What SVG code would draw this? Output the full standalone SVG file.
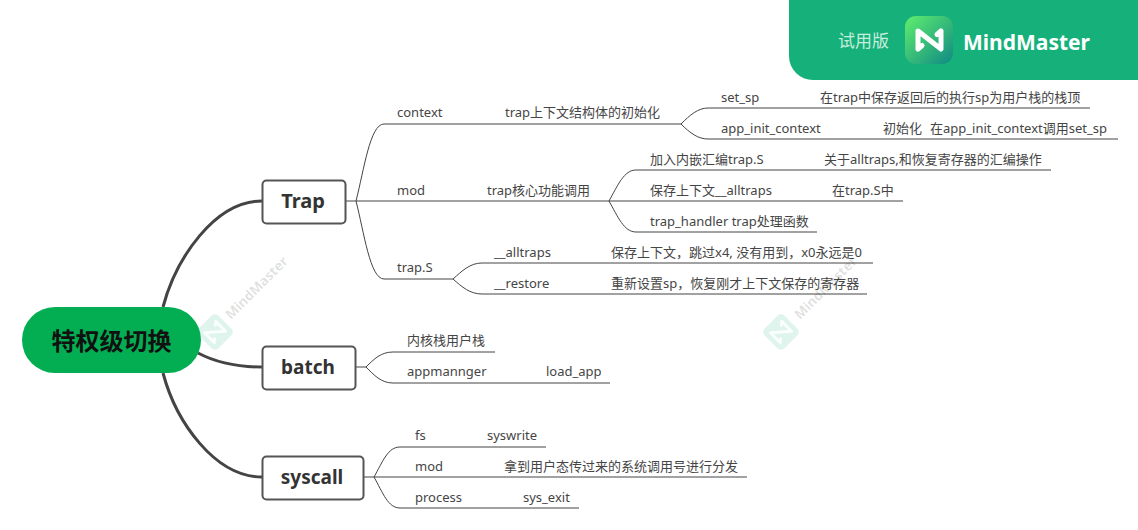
<svg xmlns="http://www.w3.org/2000/svg" width="1138" height="530" viewBox="0 0 1138 530">
<style>
text{font-family:"Noto Sans","Noto Sans CJK SC","DejaVu Sans",sans-serif;}
.t{font-size:13px;fill:#454545;}
.b{font-size:19px;font-weight:700;fill:#333;text-anchor:middle;font-family:"Noto Sans","Noto Sans CJK SC",sans-serif;}
.box{fill:#fff;stroke:#555;stroke-width:2;}
.thick{fill:none;stroke:#444;stroke-width:3;}
.thin{fill:none;stroke:#444;stroke-width:1;}
.wm{font-size:13.5px;font-weight:700;fill:#000;fill-opacity:.12;}
</style>
<defs>
<linearGradient id="lg" x1="0" y1="0" x2="1" y2="1"><stop offset="0" stop-color="#60ee6e"/><stop offset="1" stop-color="#0f8a84"/></linearGradient>
<g id="wmlogo">
<rect x="-14" y="-14" width="28" height="28" rx="5" fill="#16b07a" fill-opacity=".14"/>
<path d="M-8 7V-7L8 7V-7M-8 7-5 4.500M8-7 5-4.500" fill="none" stroke="#fff" stroke-opacity=".85" stroke-width="3" stroke-linejoin="round" stroke-linecap="round"/>
</g>
</defs>
<rect width="1138" height="530" fill="#fff"/>
<g id="connectors">
<path class="thick" d="M163 307C176 258 215 201 262 201"/>
<path class="thick" d="M198 353C215 362 235 367 262 367"/>
<path class="thick" d="M163 373C176 422 215 477 262 477"/>
<path class="thin" d="M346 201H609"/>
<path class="thin" d="M356 201C364 170 370 124 384 124H681"/>
<path class="thin" d="M356 201C364 232 370 279 384 279H453"/>
<path class="thin" d="M681 124C690 115 698 108 708 108H1090"/>
<path class="thin" d="M681 124C690 133 698 139 708 139H1118"/>
<path class="thin" d="M609 201C618 185 624 170 636 170H1051"/>
<path class="thin" d="M609 201H903"/>
<path class="thin" d="M609 201C618 217 624 232 636 232H817"/>
<path class="thin" d="M453 279C462 271 470 263 482 263H873"/>
<path class="thin" d="M453 279C462 287 470 294 482 294H867"/>
<path class="thin" d="M356 367H366C374 359 381 352 393 352H495"/>
<path class="thin" d="M366 367C374 375 381 383 393 383H610"/>
<path class="thin" d="M364 477H747"/>
<path class="thin" d="M374 477C383 461 388 447 400 447H546"/>
<path class="thin" d="M374 477C383 493 388 508 400 508H579"/>
</g>
<g id="root"><rect x="22" y="307" width="179" height="66" rx="33" fill="#03ad52"/>
<text x="111.500" y="350" text-anchor="middle" style="font-size:24px;font-weight:700;fill:#111;font-family:'Noto Sans CJK SC',sans-serif">特权级切换</text></g>
<g id="n-trap"><rect class="box" x="262.500" y="180.500" width="83" height="43" rx="4"/><text class="b" x="303" y="208" style="font-size:20px">Trap</text></g>
<g id="n-batch"><rect class="box" x="262.500" y="346.500" width="93" height="43" rx="4"/><text class="b" x="308" y="374">batch</text></g>
<g id="n-syscall"><rect class="box" x="262.500" y="456.500" width="101" height="43" rx="4"/><text class="b" x="312" y="484">syscall</text></g>
<g id="labels">
<text class="t" x="397" y="117">context</text>
<text class="t" x="505" y="117">trap上下文结构体的初始化</text>
<text class="t" x="721" y="102">set_sp</text>
<text class="t" x="820" y="102">在trap中保存返回后的执行sp为用户栈的栈顶</text>
<text class="t" x="721" y="133">app_init_context</text>
<text class="t" x="883" y="133">初始化<tspan x="930">在app_init_context调用set_sp</tspan></text>
<text class="t" x="397" y="195">mod</text>
<text class="t" x="487" y="195">trap核心功能调用</text>
<text class="t" x="650" y="164">加入内嵌汇编trap.S</text>
<text class="t" x="824" y="164">关于alltraps,和恢复寄存器的汇编操作</text>
<text class="t" x="650" y="195">保存上下文__alltraps</text>
<text class="t" x="832" y="195">在trap.S中</text>
<text class="t" x="650" y="226">trap_handler trap处理函数</text>
<text class="t" x="397" y="272">trap.S</text>
<text class="t" x="494" y="257">__alltraps</text>
<text class="t" x="611" y="257">保存上下文，跳过x4, 没有用到，x0永远是0</text>
<text class="t" x="494" y="288">__restore</text>
<text class="t" x="611" y="288">重新设置sp，恢复刚才上下文保存的寄存器</text>
<text class="t" x="407" y="345">内核栈用户栈</text>
<text class="t" x="407" y="376">appmannger</text>
<text class="t" x="546" y="376">load_app</text>
<text class="t" x="415" y="440">fs</text>
<text class="t" x="487" y="440">syswrite</text>
<text class="t" x="415" y="471">mod</text>
<text class="t" x="504" y="471">拿到用户态传过来的系统调用号进行分发</text>
<text class="t" x="415" y="502">process</text>
<text class="t" x="523" y="502">sys_exit</text>
</g>
<g id="watermarks">
<use href="#wmlogo" transform="translate(215 332) rotate(-45)"/>
<text class="wm" transform="translate(231 320) rotate(-45)">MindMaster</text>
<use href="#wmlogo" transform="translate(781 332) rotate(-45)"/>
<text class="wm" transform="translate(800 320) rotate(-45)">MindMaster</text>
</g>
<g id="banner">
<path d="M789 0H1138V80H813A24 24 0 0 1 789 56Z" fill="#16b07a"/>
<text x="838" y="47" style="font-size:17px;fill:#c6eddd;font-family:'Noto Sans CJK SC',sans-serif">试用版</text>
<rect x="905" y="16" width="48" height="48" rx="11" fill="url(#lg)"/>
<path d="M918 49V31L941 49V31M918 49 922 45.500M941 31 937 34.500" fill="none" stroke="#fff" stroke-width="5" stroke-linejoin="round" stroke-linecap="round"/>
<text x="963" y="50" style="font-size:21px;font-weight:700;fill:#fff">MindMaster</text>
</g>
</svg>
